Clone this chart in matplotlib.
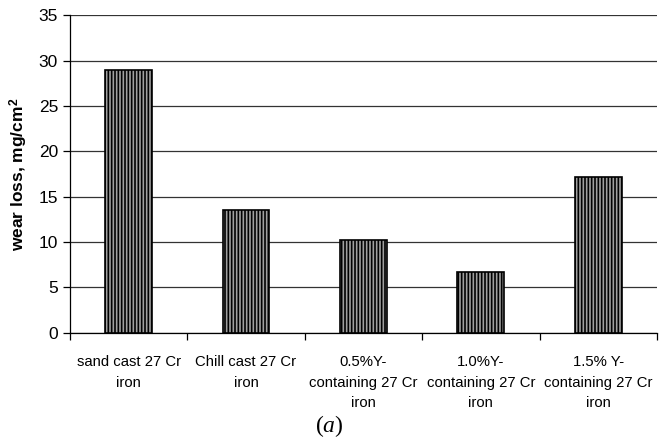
import matplotlib
matplotlib.use("Agg")
import matplotlib.pyplot as plt
import numpy as np

# categories and wear loss values (mg/cm2)
labels = ["sand cast 27 Cr\niron", "Chill cast 27 Cr\niron",
          "0.5%Y-\ncontaining 27 Cr\niron", "1.0%Y-\ncontaining 27 Cr\niron",
          "1.5% Y-\ncontaining 27 Cr\niron"]
wear = [29.0, 13.5, 10.2, 6.7, 17.2]
yticks = [0, 5, 10, 15, 20, 25, 30, 35]

plt.rcParams['font.family'] = ['Liberation Sans', 'DejaVu Sans']
plt.rcParams['hatch.linewidth'] = 1.2
plt.rcParams['mathtext.fontset'] = 'custom'
plt.rcParams['mathtext.rm'] = 'Liberation Serif'
plt.rcParams['mathtext.it'] = 'Liberation Serif:italic'
plt.rcParams['mathtext.bf'] = 'Liberation Sans:bold'

fig = plt.figure(figsize=(6.59, 4.45), dpi=100)
ax = fig.add_axes([0.106, 0.252, 0.891, 0.714])

x = np.arange(len(labels))
ax.bar(x, wear, width=0.4, facecolor='#a0a0a0', edgecolor='black',
       hatch='|||||', linewidth=1.2, zorder=3)

ax.set_xlim(-0.5, len(labels) - 0.5)
ax.set_ylim(0, 35)
ax.set_yticks(yticks)
ax.yaxis.grid(True, color='#333333', linewidth=0.9, zorder=0)
ax.tick_params(axis='y', labelsize=12.5, direction='out', length=5, width=0.9)

ax.set_xticks(x)
ax.set_xticklabels(labels, fontsize=10.7, linespacing=1.6)
ax.tick_params(axis='x', length=0, pad=16)
ax.set_xticks(np.arange(-0.5, len(labels)), minor=True)
ax.tick_params(axis='x', which='minor', length=5, width=0.9, direction='out')

for s in ['top', 'right']:
    ax.spines[s].set_visible(False)
ax.spines['left'].set_linewidth(0.9)
ax.spines['bottom'].set_linewidth(0.9)

ax.set_ylabel('wear loss, mg/cm$^\\mathbf{2}$', fontsize=12.5, fontweight='bold', labelpad=6)

fig.text(0.5, 0.03, '$(\\mathit{a})$', fontsize=17, ha='center')

fig.savefig("out.png", dpi=100)
